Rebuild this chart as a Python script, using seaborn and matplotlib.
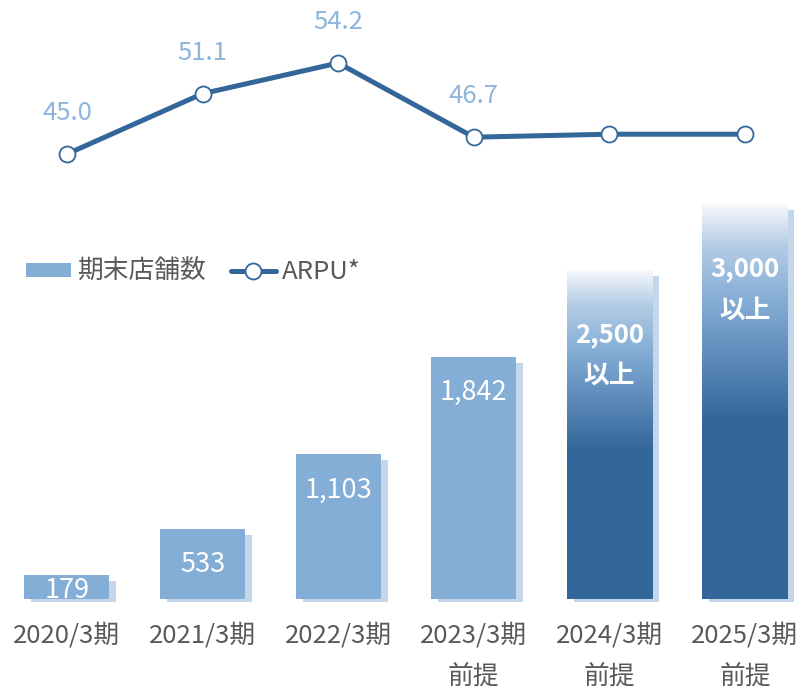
import numpy as np
import matplotlib
matplotlib.use("Agg")
import matplotlib.pyplot as plt
import matplotlib.transforms as mtransforms
from matplotlib.colors import LinearSegmentedColormap
from matplotlib.patches import Patch
from matplotlib.lines import Line2D
import seaborn as sns

# データ
periods = ["2020/3期", "2021/3期", "2022/3期", "2023/3期\n前提", "2024/3期\n前提", "2025/3期\n前提"]
stores = [179, 533, 1103, 1842, 2500, 3000]
store_labels = ["179", "533", "1,103", "1,842", "2,500\n以上", "3,000\n以上"]
arpu = [45.0, 51.1, 54.2, 46.7, 47.0, 47.0]
arpu_labels = ["45.0", "51.1", "54.2", "46.7", "", ""]

LIGHT = "#85AED6"
DARK = "#336699"
SHADOW = "#C3D6EA"
GRAY = "#595959"
FS = 18.5

sns.set_style("white")
plt.rcParams["font.family"] = ["Noto Sans CJK JP", "DejaVu Sans"]

fig = plt.figure(figsize=(8, 6.93), dpi=100)
ax_h_px = 601.5
ax = fig.add_axes([0, (693 - ax_h_px) / 693, 1, ax_h_px / 693])

bar_colors = [LIGHT] * 4 + [DARK] * 2

# 影のバー（右下にずらす）
sns.barplot(x=periods, y=stores, color=SHADOW, saturation=1, width=0.627,
            linewidth=0, ax=ax, zorder=1)
n_shadow = len(ax.patches)
shift = mtransforms.ScaledTranslation(7 / 100, -6 / 100, fig.dpi_scale_trans)
for p in ax.patches[:n_shadow]:
    p.set_transform(ax.transData + shift)

# 本体のバー
sns.barplot(x=periods, y=stores, hue=periods, palette=bar_colors, saturation=1,
            dodge=False, legend=False, width=0.627, linewidth=0, ax=ax, zorder=2)
bars = ax.patches[n_shadow:]

ymin, ymax = -19, 4555
ax.set_xlim(-0.494, 5.406)
ax.set_ylim(ymin, ymax)
px_per_unit = ax_h_px / (ymax - ymin)

# 2024, 2025 はグラデーション
cmap = LinearSegmentedColormap.from_list(
    "grad", [(0, DARK), (0.45, DARK), (0.6, "#5A88B8"), (0.76, "#86AED6"),
             (0.9, "#B5CDE6"), (1.0, "#F7F9FC")])
grad = np.linspace(0, 1, 256).reshape(-1, 1)
for p in bars[4:]:
    x0, w, h = p.get_x(), p.get_width(), p.get_height()
    im = ax.imshow(grad, extent=[x0, x0 + w, 0, h], origin="lower", aspect="auto",
                   cmap=cmap, zorder=3)
    im.set_clip_path(p)
ax.set_xlim(-0.494, 5.406)
ax.set_ylim(ymin, ymax)

# バーのラベル
for i, (v, lab) in enumerate(zip(stores, store_labels)):
    if i >= 4:
        ax.text(i, v - 85 / px_per_unit, lab, ha="center", va="center", color="white",
                fontsize=FS, fontweight="bold", linespacing=1.65, zorder=5)
    else:
        y = max(v - 36 / px_per_unit, 9 / px_per_unit)
        ax.text(i, y, lab, ha="center", va="center", color="white", fontsize=19.5, zorder=5)

ax.tick_params(axis="x", length=0, pad=15, labelsize=FS, labelcolor=GRAY)
for lbl in ax.get_xticklabels():
    lbl.set_linespacing(1.78)
ax.set_yticks([])
ax.set_xlabel("")
sns.despine(ax=ax, left=True, bottom=True)

# ARPU 折れ線
ax2 = ax.twinx()
sns.lineplot(x=np.arange(len(arpu)), y=arpu, color=DARK, linewidth=3.6, marker="o",
             markersize=11.5, markerfacecolor="white", markeredgecolor=DARK,
             markeredgewidth=1.3, ax=ax2, zorder=6)
ax2.set_ylim(-0.25, 60.57)
ax2.set_xlim(-0.494, 5.406)
for i, (v, lab) in enumerate(zip(arpu, arpu_labels)):
    if lab:
        ax2.annotate(lab, (i, v), xytext=(0, 29.5), textcoords="offset points",
                     ha="center", va="center", color="#8DB4DC", fontsize=FS)
ax2.set_yticks([])
sns.despine(ax=ax2, left=True, bottom=True, right=True)

# 凡例
handles = [Patch(facecolor=LIGHT, edgecolor="none"),
           Line2D([], [], color=DARK, linewidth=3.6, marker="o", markersize=11.5,
                  markerfacecolor="white", markeredgecolor=DARK, markeredgewidth=1.3)]
leg = fig.legend(handles, ["期末店舗数", "ARPU*"], loc="center left",
                 bbox_to_anchor=(26 / 800, 1 - 272 / 693), ncol=2, frameon=False,
                 fontsize=FS, borderpad=0, borderaxespad=0, handlelength=1.75,
                 handleheight=0.5, handletextpad=0.25, columnspacing=0.95)
for t in leg.get_texts():
    t.set_color(GRAY)

fig.savefig("out.png", dpi=100)
